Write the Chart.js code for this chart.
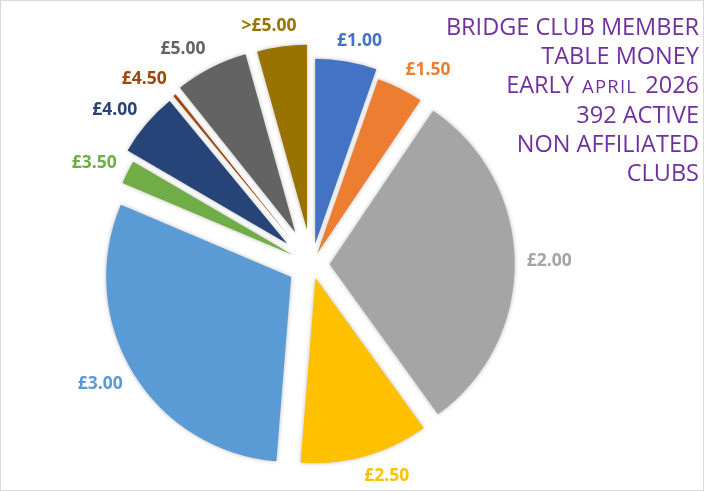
<!DOCTYPE html>
<html>
<head>
<meta charset="utf-8">
<script src="https://cdn.jsdelivr.net/npm/chart.js@4.4.1/dist/chart.umd.min.js"></script>
<style>
  html, body { margin: 0; padding: 0; background: #ffffff; }
  #wrap { width: 704px; height: 491px; position: relative; }
  canvas { display: block; }
</style>
</head>
<body>
<div id="wrap"><canvas id="c" width="704" height="491"></canvas></div>
<script>
// ---- data ----
const categories = ['£1.00', '£1.50', '£2.00', '£2.50', '£3.00', '£3.50', '£4.00', '£4.50', '£5.00', '>£5.00'];
const clubCounts = [21, 16, 120, 44, 118, 8, 22, 1, 25, 17];
const titleLines = ['BRIDGE CLUB MEMBER', 'TABLE MONEY', 'EARLY APRIL 2026', '392 ACTIVE', 'NON AFFILIATED', 'CLUBS'];

// ---- styles ----
const sliceColors = ['#4472C4', '#ED7D31', '#A5A5A5', '#FFC000', '#5B9BD5', '#70AD47', '#264478', '#9E480E', '#636363', '#997300'];
const explodeDistance = [21, 12, 18, 14, 24, 21, 32, 33, 36, 35];
const titleColor = '#7030A0';

const explodePlugin = {
  id: 'explode',
  afterDatasetUpdate(chart, args) {
    args.meta.data.forEach((arc, i) => {
      const baseDraw = Object.getPrototypeOf(arc).draw;
      arc.draw = function (ctx, area) {
        const d = explodeDistance[i] || 0;
        const half = (this.startAngle + this.endAngle) / 2;
        ctx.save();
        ctx.translate(Math.cos(half) * d, Math.sin(half) * d);
        ctx.shadowColor = 'rgba(0,0,0,0.28)';
        ctx.shadowBlur = 4;
        baseDraw.call(this, ctx, area);
        ctx.restore();
      };
    });
  }
};

const labelPlugin = {
  id: 'outsideLabels',
  afterDatasetsDraw(chart) {
    const ctx = chart.ctx;
    const meta = chart.getDatasetMeta(0);
    ctx.save();
    ctx.font = 'bold 17.5px "Open Sans", "DejaVu Sans", sans-serif';
    ctx.textAlign = 'center';
    ctx.textBaseline = 'middle';
    meta.data.forEach((arc, i) => {
      const a = (arc.startAngle + arc.endAngle) / 2;
      const d = explodeDistance[i] || 0;
      const R = arc.outerRadius;
      const ca = Math.cos(a), sa = Math.sin(a);
      const tipX = arc.x + d * ca, tipY = arc.y + d * sa;
      const text = categories[i];
      const w = ctx.measureText(text).width;
      const h = 18;
      const gap = 12;
      const k = Math.max(-1, Math.min(1, 3 * ca));
      const x = tipX + (R + gap) * ca + (w / 2) * k;
      const y = tipY + (R + gap) * sa + (h / 2) * sa;
      ctx.fillStyle = sliceColors[i];
      ctx.fillText(text, x, y);
    });
    ctx.restore();
  }
};

const titlePlugin = {
  id: 'sideTitle',
  afterDraw(chart) {
    const ctx = chart.ctx;
    ctx.save();
    ctx.fillStyle = titleColor;
    ctx.textBaseline = 'alphabetic';
    ctx.textAlign = 'left';
    const big = '23.5px "Open Sans", "DejaVu Sans", sans-serif';
    const small = '18.5px "Open Sans", "DejaVu Sans", sans-serif';
    const right = 699;
    const y0 = 35, step = 29.2;
    titleLines.forEach((line, li) => {
      const y = y0 + li * step;
      // "APRIL" is set in small capitals in the original
      const parts = [];
      const pieces = line.split(/(APRIL)/).filter(p => p);
      pieces.forEach(p => {
        if (p === 'APRIL') parts.push({ t: p, f: small, ls: 1.2, pad: 0 });
        else parts.push({ t: p, f: big, ls: 0, pad: pieces.length > 1 ? 2 : 0 });
      });
      let total = 0;
      parts.forEach(p => {
        ctx.font = p.f;
        ctx.letterSpacing = p.ls + 'px';
        p.w = ctx.measureText(p.t).width + p.pad;
        total += p.w;
      });
      let x = right - total;
      parts.forEach((p, pi) => {
        ctx.font = p.f;
        ctx.letterSpacing = p.ls + 'px';
        const startPad = (pi > 0 && p.pad) ? p.pad : 0;
        ctx.fillText(p.t, x + startPad, y);
        x += p.w;
      });
    });
    ctx.letterSpacing = '0px';
    ctx.restore();
  }
};

const framePlugin = {
  id: 'frame',
  afterDraw(chart) {
    const ctx = chart.ctx;
    ctx.save();
    ctx.strokeStyle = '#D9D9D9';
    ctx.lineWidth = 1;
    ctx.strokeRect(0.5, 0.5, chart.width - 1, chart.height - 1);
    ctx.restore();
  }
};

new Chart(document.getElementById('c'), {
  type: 'pie',
  data: {
    labels: categories,
    datasets: [{
      data: clubCounts,
      backgroundColor: sliceColors,
      borderWidth: 0
    }]
  },
  options: {
    responsive: false,
    animation: false,
    devicePixelRatio: 1,
    layout: { padding: { top: 79.5, bottom: 41.5, left: 60, right: 140.6 } },
    plugins: {
      legend: { display: false },
      tooltip: { enabled: false },
      title: { display: false }
    },
    events: []
  },
  plugins: [explodePlugin, labelPlugin, titlePlugin, framePlugin]
});
</script>
</body>
</html>
